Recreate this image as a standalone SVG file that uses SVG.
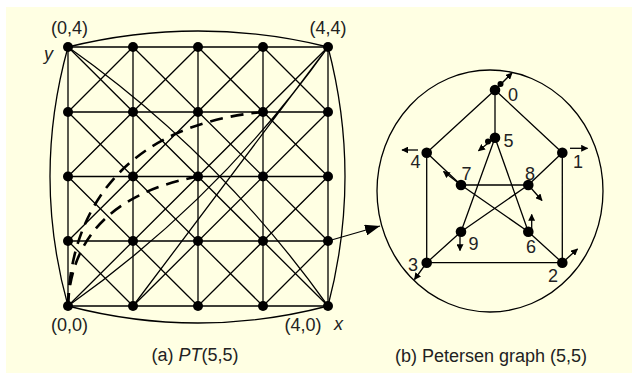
<svg xmlns="http://www.w3.org/2000/svg" width="632" height="373" viewBox="0 0 632 373">
<style>
.e{fill:none;stroke:#000;stroke-width:1.3}
.d{fill:none;stroke:#000;stroke-width:2.6;stroke-dasharray:13 8}
.a{fill:none;stroke:#000;stroke-width:1.3;marker-end:url(#ah)}
.n{fill:#000}
text{font-family:"Liberation Sans",Arial,sans-serif;font-size:18px;fill:#222}
.i{font-style:italic}
</style>
<defs>
<marker id="ah" viewBox="0 0 10 10" refX="9" refY="5" markerWidth="7" markerHeight="7" markerUnits="userSpaceOnUse" orient="auto"><path d="M0,0 L10,5 L0,10 z"/></marker>
<marker id="big" viewBox="0 0 15 11" refX="15" refY="5.5" markerWidth="15" markerHeight="11" markerUnits="userSpaceOnUse" orient="auto"><path d="M0,0 L15,5.5 L0,11 z"/></marker>
</defs>
<rect x="6" y="7" width="626" height="366" fill="#FFFFE3"/>
<g id="connectors">
<path class="e" d="M68,47H328M68,112H328M68,176.5H328M68,241H328M68,306H328M68,47V306M133,47V306M198,47V306M263,47V306M328,47V306"/>
<path class="e" d="M68,47L328,306M133,47L328,241M198,47L328,176.5M263,47L328,112M68,112L263,306M68,176.5L198,306M68,241L133,306"/>
<path class="e" d="M68,112L133,47M68,176.5L198,47M68,241L263,47M68,306L328,47M133,306L328,112M198,306L328,176.5M263,306L328,241"/>
<path class="e" d="M68,47Q198,15 328,47M68,306Q198,340 328,306M68,47Q32,176.5 68,306M328,47Q362,176.5 328,306"/>
<path class="e" d="M68,47Q220,154.5 328,306M68,306Q220,198.5 328,47M328,47L133,306"/>
<path class="d" d="M68,306C70,210 125,125 263,112"/>
<path class="d" d="M68,306C70,250 100,195 198,176.5"/>
<path class="e" d="M328,241L380,226" style="marker-end:url(#big)"/>
<ellipse class="e" cx="490" cy="191" rx="113" ry="121"/>
<path class="e" d="M495,90L495,137.7M495,90L426.7,152.7M495,90L562.3,152.7M426.7,152.7L426.7,262.7M562.3,152.7L562.3,262.7M426.7,262.7L562.3,262.7M426.7,152.7L461,185M562.3,152.7L528.3,185M426.7,262.7L461,231.7M562.3,262.7L528.3,231.7M461,185L528.3,185M495,137.7L461,231.7M495,137.7L528.3,231.7M461,185L528.3,231.7M528.3,185L461,231.7"/>
<path class="a" d="M495,90L512,73"/>
<path class="a" d="M495,137.7L478.5,150.7"/>
<path class="a" d="M418,150L402,150"/>
<path class="a" d="M570,148.3L587.5,148.3"/>
<path class="a" d="M461,185L443.5,171.5"/>
<path class="a" d="M528.3,185L542,200.5"/>
<path class="a" d="M531.7,230L531.7,214.5"/>
<path class="a" d="M460,236.5L460,250.5"/>
<path class="a" d="M426.7,262.7L414.5,279.5"/>
<path class="a" d="M562.3,262.7L577.5,249"/>
</g>
<g id="g00"><circle class="n" cx="68" cy="306" r="5"/></g>
<g id="g10"><circle class="n" cx="133" cy="306" r="5"/></g>
<g id="g20"><circle class="n" cx="198" cy="306" r="5"/></g>
<g id="g30"><circle class="n" cx="263" cy="306" r="5"/></g>
<g id="g40"><circle class="n" cx="328" cy="306" r="5"/></g>
<g id="g01"><circle class="n" cx="68" cy="241" r="5"/></g>
<g id="g11"><circle class="n" cx="133" cy="241" r="5"/></g>
<g id="g21"><circle class="n" cx="198" cy="241" r="5"/></g>
<g id="g31"><circle class="n" cx="263" cy="241" r="5"/></g>
<g id="g41"><circle class="n" cx="328" cy="241" r="5"/></g>
<g id="g02"><circle class="n" cx="68" cy="176.5" r="5"/></g>
<g id="g12"><circle class="n" cx="133" cy="176.5" r="5"/></g>
<g id="g22"><circle class="n" cx="198" cy="176.5" r="5"/></g>
<g id="g32"><circle class="n" cx="263" cy="176.5" r="5"/></g>
<g id="g42"><circle class="n" cx="328" cy="176.5" r="5"/></g>
<g id="g03"><circle class="n" cx="68" cy="112" r="5"/></g>
<g id="g13"><circle class="n" cx="133" cy="112" r="5"/></g>
<g id="g23"><circle class="n" cx="198" cy="112" r="5"/></g>
<g id="g33"><circle class="n" cx="263" cy="112" r="5"/></g>
<g id="g43"><circle class="n" cx="328" cy="112" r="5"/></g>
<g id="g04"><circle class="n" cx="68" cy="47" r="5"/></g>
<g id="g14"><circle class="n" cx="133" cy="47" r="5"/></g>
<g id="g24"><circle class="n" cx="198" cy="47" r="5"/></g>
<g id="g34"><circle class="n" cx="263" cy="47" r="5"/></g>
<g id="g44"><circle class="n" cx="328" cy="47" r="5"/></g>
<g id="p0"><circle class="n" cx="495" cy="90" r="5.3"/><circle class="n" cx="500.5" cy="84" r="3"/><text x="508" y="101">0</text></g>
<g id="p1"><circle class="n" cx="562.3" cy="152.7" r="5.3"/><text x="573" y="167.5">1</text></g>
<g id="p2"><circle class="n" cx="562.3" cy="262.7" r="5.3"/><text x="548" y="282">2</text></g>
<g id="p3"><circle class="n" cx="426.7" cy="262.7" r="5.3"/><text x="408" y="271">3</text></g>
<g id="p4"><circle class="n" cx="426.7" cy="152.7" r="5.3"/><text x="410.5" y="167.5">4</text></g>
<g id="p5"><circle class="n" cx="495" cy="137.7" r="5.3"/><circle class="n" cx="488" cy="141.5" r="3"/><text x="503.5" y="147">5</text></g>
<g id="p6"><circle class="n" cx="528.3" cy="231.7" r="5.3"/><text x="526" y="253">6</text></g>
<g id="p7"><circle class="n" cx="461" cy="185" r="5.3"/><text x="461.5" y="179.5">7</text></g>
<g id="p8"><circle class="n" cx="528.3" cy="185" r="5.3"/><text x="525" y="179.5">8</text></g>
<g id="p9"><circle class="n" cx="461" cy="231.7" r="5.3"/><text x="468.5" y="250">9</text></g>
<g id="labels">
<text x="69.5" y="34" text-anchor="middle">(0,4)</text>
<text x="328" y="34" text-anchor="middle">(4,4)</text>
<text x="44" y="60" class="i">y</text>
<text x="69.5" y="331" text-anchor="middle">(0,0)</text>
<text x="303" y="331" text-anchor="middle">(4,0)</text>
<text x="334" y="330" class="i">x</text>
<text x="151.5" y="361">(a) <tspan class="i">PT</tspan>(5,5)</text>
<text x="395" y="362">(b) Petersen graph (5,5)</text>
</g>
</svg>
